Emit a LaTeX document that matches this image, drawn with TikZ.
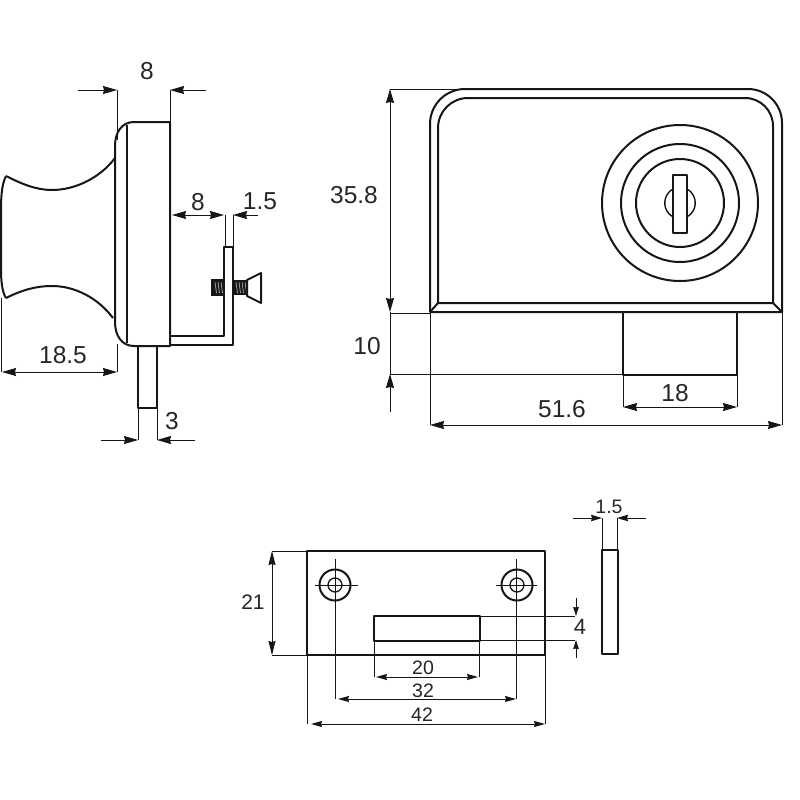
\documentclass[tikz,border=0pt]{standalone}
\usepackage{fontspec}
\setmainfont{Liberation Sans}
\usetikzlibrary{arrows.meta}
\definecolor{ink}{HTML}{161616}
\definecolor{labelink}{HTML}{262626}
\tikzset{
  obj/.style={draw=ink,line width=2pt,line join=round},
  thin line/.style={draw=ink,line width=1pt},
  dimA/.style={thin line,{Stealth[length=14pt,width=8pt,inset=1pt]}-{Stealth[length=14pt,width=8pt,inset=1pt]}},
  tipEnd/.style={thin line,-{Stealth[length=14pt,width=8pt,inset=1pt]}},
  dimB/.style={thin line,{Stealth[length=11pt,width=6pt,inset=1pt]}-{Stealth[length=11pt,width=6pt,inset=1pt]}},
  tipEndB/.style={thin line,-{Stealth[length=11pt,width=6.5pt,inset=1pt]}},
  tipEndC/.style={thin line,-{Stealth[length=9pt,width=5.5pt,inset=0.5pt]}},
  big/.style={text=labelink,inner sep=0pt,font=\fontsize{24.5}{24.5}\selectfont},
  small/.style={text=labelink,inner sep=0pt,font=\fontsize{19.5}{19.5}\selectfont},
}
\begin{document}
\begin{tikzpicture}[x=1pt,y=-1pt]
\useasboundingbox (0,0) rectangle (800,800);
\fill[white] (0,0) rectangle (800,800);

% ---- side view: knob and body
\draw[obj] (6,176) .. controls (22,184) and (36,190) .. (52,190) .. controls (75,190) and (100,178) .. (115,158);
\draw[obj] (6,298) .. controls (22,290) and (36,286) .. (52,286) .. controls (75,286) and (98,298) .. (113,318);
\draw[obj] (6,176) .. controls (1,186) and (1,200) .. (1,215) -- (1,270) .. controls (1,280) and (2,292) .. (6,298);
\draw[obj] (170,122) -- (134,122) .. controls (122,122) and (115,132) .. (115,146) -- (115,322) .. controls (115,336) and (122,346) .. (134,346) -- (170,346) -- cycle;
\draw[obj] (127,125) -- (127,343);
% pin
\draw[obj] (138,346) -- (138,408) -- (157,408) -- (157,346);
% bracket
\draw[obj] (170,336) -- (224,336) -- (224,247) -- (233,247) -- (233,345) -- (170,345);
% screw
\fill[ink] (211,279) rectangle (224,296);
\fill[ink] (233,280) rectangle (247,295);
\foreach \sx in {215,218,221,236,239,242,245}
  \draw[white!65!ink,line width=0.7pt] (\sx,282) -- (\sx+1.5,293);
\draw[obj] (247,280) -- (261,273) -- (261,303) -- (247,296) -- cycle;

% side view dimensions
\draw[thin line] (117,90) -- (117,140);
\draw[thin line] (170,90) -- (170,122);
\draw[tipEnd] (78,90) -- (117,90);
\draw[tipEnd] (206,90) -- (170,90);
\node[big] (d8a) at (147,71) {8};

\draw[thin line] (1.5,298) -- (1.5,372);
\draw[thin line] (117,344) -- (117,372);
\draw[dimA] (2,372) -- (117,372);
\node[big] (d185) at (63,355) {18.5};

\draw[thin line] (138,408) -- (138,440);
\draw[thin line] (157,408) -- (157,440);
\draw[tipEnd] (101,440) -- (138,440);
\draw[tipEnd] (195,440) -- (157,440);
\node[big] (d3) at (172,421) {3};

\draw[thin line] (225,215) -- (225,247);
\draw[thin line] (233,215) -- (233,247);
\draw[dimA] (172,215) -- (224,215);
\draw[tipEnd] (258,215) -- (233,215);
\node[big] (d8b) at (198,202) {8};
\node[big] (d15a) at (260,201) {1.5};

% ---- front view
\draw[obj] (430,312) -- (430,124) arc[start angle=180,end angle=270,radius=35] -- (748,89) arc[start angle=270,end angle=360,radius=34] -- (782,312) -- cycle;
\draw[obj] (438,303) -- (438,128) arc[start angle=180,end angle=270,radius=30] -- (745,98) arc[start angle=270,end angle=360,radius=28] -- (773,303) -- cycle;
\draw[obj] (430,312) -- (438,303);
\draw[obj] (782,312) -- (773,303);
\draw[obj] (680,203) circle[radius=78];
\draw[obj] (680,203) circle[radius=59];
\draw[obj] (680,203) circle[radius=44];
\draw[obj,line width=1.4pt] (673,189) arc[start angle=-119,end angle=-241,radius=16];
\draw[obj,line width=1.4pt] (687,189) arc[start angle=-61,end angle=61,radius=16];
\draw[obj,fill=white] (673,175) rectangle (687,233);
\draw[obj] (623,312) -- (623,375) -- (737,375) -- (737,312);

% front view dimensions
\draw[thin line] (390,89) -- (457,89);
\draw[thin line] (390,313) -- (430,313);
\draw[thin line] (390,374) -- (623,374);
\draw[thin line] (390,312) -- (390,374);
\draw[dimA] (390,89) -- (390,312);
\draw[tipEnd] (390,412) -- (390,374);
\node[big] (d358) at (354,195) {35.8};
\node[big] (d10) at (367,346) {10};

\draw[thin line] (623,375) -- (623,407);
\draw[thin line] (737,375) -- (737,407);
\draw[dimA] (623,407) -- (737,407);
\node[big] (d18) at (675,393) {18};

\draw[thin line] (430,312) -- (430,425);
\draw[thin line] (782,312) -- (782,425);
\draw[dimA] (430,425) -- (782,425);
\node[big] (d516) at (562,409) {51.6};

% ---- strike plate
\draw[obj] (307,551) rectangle (545,655);
\draw[obj] (335,585) circle[radius=15.5];
\draw[obj,line width=1.3pt] (335,585) circle[radius=7];
\draw[obj] (517,585) circle[radius=15.5];
\draw[obj,line width=1.3pt] (517,585) circle[radius=7];
\draw[thin line] (315,585) -- (358,585);
\draw[thin line] (496,585) -- (537,585);
\draw[thin line] (335,559) -- (335,699);
\draw[thin line] (516,559) -- (516,699);
\draw[obj] (374,616) rectangle (480,641);
\draw[obj] (602,550) rectangle (618,654);

% plate dimensions
\draw[thin line] (272,551) -- (307,551);
\draw[thin line] (272,655) -- (307,655);
\draw[thin line,{Stealth[length=14pt,width=7pt,inset=1pt]}-{Stealth[length=14pt,width=7pt,inset=1pt]}] (272,551) -- (272,655);
\node[small,font=\fontsize{21}{21}\selectfont] (d21) at (253,602) {21};

\draw[thin line] (480,616) -- (575,616);
\draw[thin line] (480,640) -- (575,640);
\draw[tipEndC] (576,598) -- (576,616);
\draw[tipEndC] (576,658) -- (576,640);
\node[small,font=\fontsize{22}{22}\selectfont] (d4) at (580,627) {4};

\draw[thin line] (374,641) -- (374,677);
\draw[thin line] (479,641) -- (479,677);
\draw[dimB] (376,677) -- (478,677);
\node[small] (d20) at (423,668) {20};

\draw[dimB] (338,699) -- (516,699);
\node[small] (d32) at (423,691) {32};

\draw[thin line] (307,655) -- (307,724);
\draw[thin line] (545,655) -- (545,724);
\draw[dimB] (311,724) -- (545,724);
\node[small] (d42) at (422,715) {42};

\draw[thin line] (602,518) -- (602,550);
\draw[thin line] (617,518) -- (617,550);
\draw[tipEndB] (573,518) -- (602,518);
\draw[tipEndB] (646,518) -- (617,518);
\node[small] (d15b) at (609,507) {1.5};
\end{tikzpicture}
\end{document}
